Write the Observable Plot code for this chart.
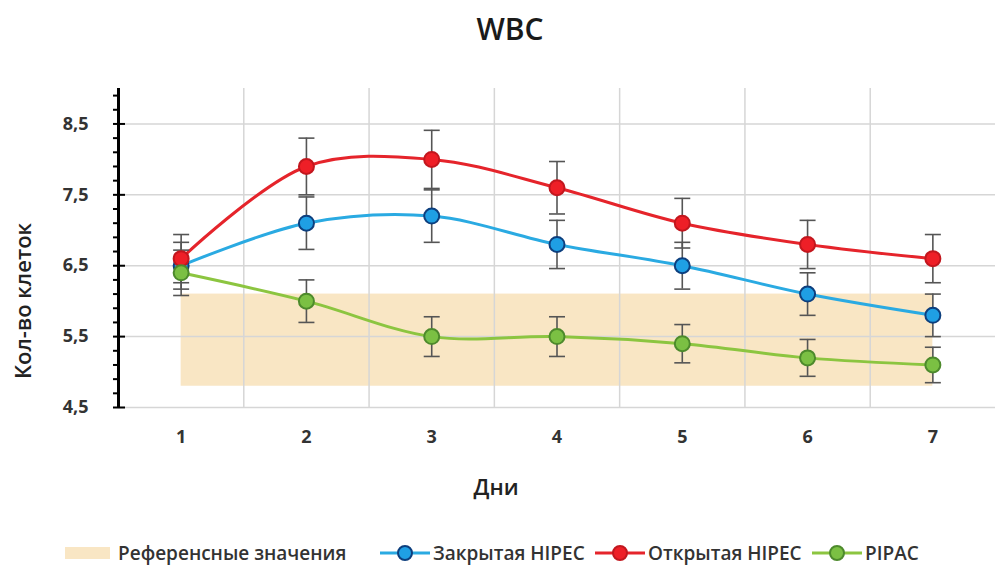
<!DOCTYPE html>
<html>
<head>
<meta charset="utf-8">
<script src="https://cdn.jsdelivr.net/npm/d3@7"></script>
<script src="https://cdn.jsdelivr.net/npm/@observablehq/plot@0.6"></script>
<style>
  html, body { margin: 0; padding: 0; background: #fff; }
  #wrap { position: relative; width: 995px; height: 567px; font-family: "Open Sans", sans-serif; color: #222; }
  #title { position: absolute; top: 8px; left: 0; width: 1020px; text-align: center; font-size: 30px; font-weight: 600; color: #1a1a1a; }
  #chart { position: absolute; top: 60px; left: 0; }
  #legend { position: absolute; top: 540px; left: 0; width: 995px; height: 26px; font-size: 19px; font-weight: 600; color: #333; white-space: nowrap; }
  .item { position: absolute; top: 0; height: 26px; display: flex; align-items: center; gap: 3px; }
  .item svg { display: block; }
</style>
</head>
<body>
<div id="wrap">
  <div id="title">WBC</div>
  <div id="chart"></div>
  <div id="legend"></div>
</div>
<script>
// ---- data ----
const days = [1, 2, 3, 4, 5, 6, 7];
const closedHipec = [6.5, 7.1, 7.2, 6.8, 6.5, 6.1, 5.8];
const closedErr   = [0.33, 0.37, 0.37, 0.34, 0.33, 0.30, 0.30];
const openHipec   = [6.6, 7.9, 8.0, 7.6, 7.1, 6.8, 6.6];
const openErr     = [0.34, 0.40, 0.41, 0.37, 0.35, 0.34, 0.34];
const pipac       = [6.4, 6.0, 5.5, 5.5, 5.4, 5.2, 5.1];
const pipacErr    = [0.32, 0.30, 0.28, 0.28, 0.27, 0.26, 0.25];
const refRange    = [{from: 1, to: 7, low: 4.8, high: 6.1}];
const refLabel    = "Референсные значения";
const seriesNames = ["Закрытая HIPEC", "Открытая HIPEC", "PIPAC"];
const xDomain = [0.5, 7.5];
const yDomain = [4.5, 9];
const yMajorTicks = [4.5, 5.5, 6.5, 7.5, 8.5];
const yMinorTicks = d3.range(4.7, 8.95, 0.2).map(v => +v.toFixed(1)).filter(v => !yMajorTicks.includes(v));
const xGridLines = [1.5, 2.5, 3.5, 4.5, 5.5, 6.5];

// ---- styles ----
const styles = {
  "Закрытая HIPEC": {line: "#2aaae2", fill: "#1f9fe4", stroke: "#0d3f7e"},
  "Открытая HIPEC": {line: "#e5242b", fill: "#ee1f27", stroke: "#c2171e"},
  "PIPAC":          {line: "#8cc540", fill: "#7bc043", stroke: "#4d8a2c"}
};
const refColor = "#f9e6c4";
const errColor = "#555";
const legendLefts = [65, 380, 595, 812];

const seriesValues = [closedHipec, openHipec, pipac];
const seriesErrs = [closedErr, openErr, pipacErr];
const rows = seriesNames.flatMap((name, s) => days.map((d, i) => ({
  series: name, day: d, value: seriesValues[s][i], err: seriesErrs[s][i]
})));

const capSymbol = {draw(ctx) { ctx.moveTo(-8, 0); ctx.lineTo(8, 0); }};
const fmt = d => d.toFixed(1).replace(".", ",");

const marks = [
  Plot.rect(refRange, {x1: "from", x2: "to", y1: "low", y2: "high", fill: refColor}),
  Plot.gridY(yMajorTicks, {stroke: "#d6d6d6", strokeOpacity: 1, strokeWidth: 1.5}),
  Plot.gridX(xGridLines, {stroke: "#d6d6d6", strokeOpacity: 1, strokeWidth: 1.5}),
  Plot.ruleX(xDomain.slice(0, 1), {stroke: "#000", strokeWidth: 3}),
  Plot.axisY(yMinorTicks, {tickSize: 5, tickFormat: () => "", stroke: "#000", strokeWidth: 2}),
  Plot.axisY(yMajorTicks, {tickSize: 5, tickPadding: 25, tickFormat: fmt, stroke: "#000", strokeWidth: 2,
    fontSize: 18, fontWeight: 700, fill: "#333"}),
  Plot.axisY(yMajorTicks, {tickSize: -7, tickFormat: () => "", stroke: "#000", strokeWidth: 2}),
  Plot.axisX(days, {tickSize: 0, tickPadding: 23, tickFormat: d => String(d), fontSize: 18, fontWeight: 700, fill: "#333"}),
  Plot.text(["Дни"], {text: d => d, frameAnchor: "bottom", dx: -61, dy: 80, lineAnchor: "middle",
    fontSize: 22, fontWeight: 600, fill: "#222"}),
  Plot.text(["Кол-во клеток"], {text: d => d, frameAnchor: "left", rotate: -90, dx: -95, dy: 53,
    textAnchor: "middle", lineAnchor: "middle", fontSize: 22, fontWeight: 600, fill: "#222"})
];

for (const name of seriesNames) {
  const data = rows.filter(r => r.series === name);
  marks.push(Plot.line(data, {x: "day", y: "value", stroke: styles[name].line, strokeWidth: 3, curve: "catmull-rom"}));
}
marks.push(
  Plot.ruleX(rows, {x: "day", y1: d => d.value - d.err, y2: d => d.value + d.err, stroke: errColor, strokeWidth: 1.6}),
  Plot.dot(rows, {x: "day", y: d => d.value + d.err, symbol: capSymbol, fill: "none", stroke: errColor, strokeWidth: 1.6}),
  Plot.dot(rows, {x: "day", y: d => d.value - d.err, symbol: capSymbol, fill: "none", stroke: errColor, strokeWidth: 1.6})
);
for (const name of seriesNames) {
  const data = rows.filter(r => r.series === name);
  marks.push(Plot.dot(data, {x: "day", y: "value", r: 7.5, fill: styles[name].fill, stroke: styles[name].stroke, strokeWidth: 2}));
}

const chart = Plot.plot({
  width: 995,
  height: 460,
  marginTop: 28,
  marginBottom: 113,
  marginLeft: 118,
  marginRight: 0,
  style: {fontFamily: "Open Sans, sans-serif", color: "#000", background: "transparent"},
  x: {domain: xDomain},
  y: {domain: yDomain},
  marks
});
document.getElementById("chart").appendChild(chart);

// ---- legend ----
const legend = d3.select("#legend");
const refItem = legend.append("div").attr("class", "item").style("left", legendLefts[0] + "px").style("gap", "8px");
refItem.append("svg").attr("width", 45).attr("height", 12)
  .append("rect").attr("width", 45).attr("height", 12).attr("fill", refColor);
refItem.append("span").text(refLabel);
seriesNames.forEach((name, i) => {
  const it = legend.append("div").attr("class", "item").style("left", legendLefts[i + 1] + "px");
  const svg = it.append("svg").attr("width", 50).attr("height", 18);
  svg.append("line").attr("x1", 0).attr("x2", 50).attr("y1", 9).attr("y2", 9)
    .attr("stroke", styles[name].line).attr("stroke-width", 3);
  svg.append("circle").attr("cx", 25).attr("cy", 9).attr("r", 7)
    .attr("fill", styles[name].fill).attr("stroke", styles[name].stroke).attr("stroke-width", 2);
  it.append("span").text(name);
});
</script>
</body>
</html>
